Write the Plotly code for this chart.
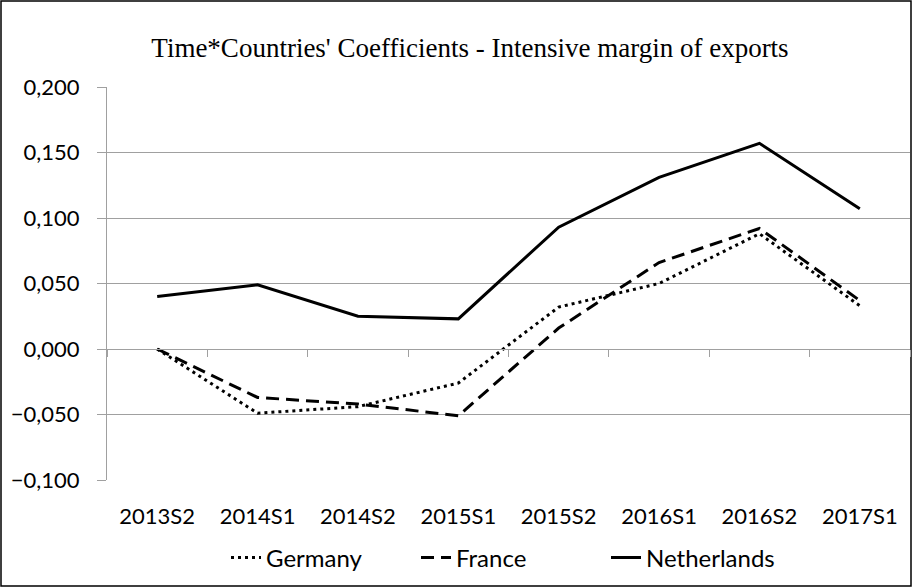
import plotly.graph_objects as go

# Semesters and interaction coefficients per country
periods = ["2013S2", "2014S1", "2014S2", "2015S1", "2015S2", "2016S1", "2016S2", "2017S1"]
germany = [0.000, -0.049, -0.044, -0.026, 0.032, 0.050, 0.088, 0.033]
france = [0.000, -0.037, -0.042, -0.051, 0.016, 0.066, 0.092, 0.037]
netherlands = [0.040, 0.049, 0.025, 0.023, 0.093, 0.131, 0.157, 0.107]
y_ticks = [-0.1, -0.05, 0.0, 0.05, 0.1, 0.15, 0.2]

W, H = 912, 587
ML, MR, MT, MB = 107, 2, 87, 107
PW, PH = W - ML - MR, H - MT - MB

GRID = "#a0a0a0"
TICK_FONT = dict(family="Lato, Liberation Sans, sans-serif", size=22, color="#000000")
LEGEND_FONT = dict(family="Lato, Liberation Sans, sans-serif", size=24, color="#000000")

fig = go.Figure()
fig.add_trace(go.Scatter(x=periods, y=germany, name="Germany", mode="lines",
                         line=dict(color="#000000", width=3, dash="3px,4px")))
fig.add_trace(go.Scatter(x=periods, y=france, name="France", mode="lines",
                         line=dict(color="#000000", width=3, dash="13px,7px")))
fig.add_trace(go.Scatter(x=periods, y=netherlands, name="Netherlands", mode="lines",
                         line=dict(color="#000000", width=3)))
# carrier trace for the category axis drawn along the zero line
fig.add_trace(go.Scatter(x=periods, y=netherlands, xaxis="x2", mode="lines",
                         line=dict(width=0), opacity=0, showlegend=False, hoverinfo="skip"))

fig.update_layout(
    width=W, height=H,
    margin=dict(l=ML, r=MR, t=MT, b=MB),
    paper_bgcolor="#ffffff", plot_bgcolor="#ffffff",
    separators=",.",
    title=dict(text="Time*Countries' Coefficients - Intensive margin of exports",
               font=dict(family="Liberation Serif, Times New Roman, serif", size=27, color="#000000"),
               x=(470 - ML) / PW, xref="paper", xanchor="center",
               y=1 - 48 / H, yref="container", yanchor="middle"),
    xaxis=dict(type="category", categoryorder="array", categoryarray=periods,
               range=[-0.5, len(periods) - 0.5], showgrid=False, showline=False,
               ticks="", tickfont=TICK_FONT, ticklabelstandoff=21),
    xaxis2=dict(type="category", categoryorder="array", categoryarray=periods,
                range=[-0.5, len(periods) - 0.5], overlaying="x", anchor="free",
                position=1 / 3, side="bottom", showgrid=False, showline=True,
                linecolor=GRID, linewidth=1, ticks="outside", ticklen=7,
                tickcolor=GRID, tickwidth=1, tickson="boundaries",
                showticklabels=False),
    yaxis=dict(range=[-0.1, 0.2], tickvals=y_ticks, tickformat=".3f",
               showgrid=True, gridcolor=GRID, gridwidth=1,
               showline=True, linecolor=GRID, linewidth=1,
               ticks="outside", ticklen=9, tickcolor=GRID, tickwidth=1,
               tickfont=TICK_FONT, ticklabelstandoff=13, zeroline=False),
    legend=dict(orientation="h", x=(226 - ML) / PW, xanchor="left",
                y=(MT + PH - 558) / PH, yanchor="middle",
                entrywidth=145, entrywidthmode="pixels",
                font=LEGEND_FONT, bgcolor="rgba(0,0,0,0)"),
    showlegend=True,
)

# outer frame of the chart
fig.add_shape(type="rect", xref="paper", yref="paper",
              x0=(1 - ML) / PW, x1=(W - 1 - ML) / PW,
              y0=(MT + PH - (H - 1)) / PH, y1=(MT + PH - 1) / PH,
              line=dict(color="#000000", width=1.5), fillcolor="rgba(0,0,0,0)", layer="below")

fig.write_html("out.html")
